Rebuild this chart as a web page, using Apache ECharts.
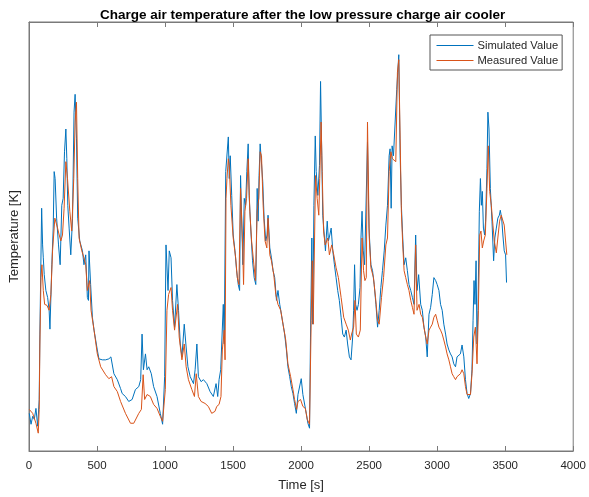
<!DOCTYPE html>
<html>
<head>
<meta charset="utf-8">
<script src="https://cdn.jsdelivr.net/npm/echarts@6/dist/echarts.min.js"></script>
<style>html,body{margin:0;padding:0;background:#fff;}#c{width:589px;height:497px;}</style>
</head>
<body>
<div id="c"></div>
<script>
const titleText = 'Charge air temperature after the low pressure charge air cooler';
const xTicks = [0, 500, 1000, 1500, 2000, 2500, 3000, 3500, 4000];
const seriesNames = ['Simulated Value', 'Measured Value'];

const simTime = [2,15,27,39,51,64,75,80,93,100,105,112,124,137,148,154,168,178,185,192,203,217,229,241,251,261,271,278,285,295,307,320,331,339,349,358,373,393,404,417,429,437,441,453,466,478,502,514,539,563,587,602,624,649,673,685,709,733,758,782,807,821,831,841,856,868,880,899,916,941,965,982,997,1007,1014,1022,1031,1044,1055,1070,1087,1099,1112,1124,1141,1153,1168,1185,1209,1221,1234,1245,1265,1282,1307,1331,1355,1375,1387,1397,1409,1428,1435,1446,1455,1465,1472,1479,1490,1501,1514,1526,1538,1548,1555,1565,1572,1582,1592,1601,1611,1618,1631,1643,1655,1667,1677,1684,1691,1699,1709,1718,1728,1740,1750,1757,1770,1782,1794,1806,1819,1830,1843,1855,1867,1879,1892,1903,1916,1928,1940,1952,1965,1977,1989,2001,2013,2026,2038,2050,2062,2069,2079,2086,2094,2104,2111,2123,2135,2143,2152,2159,2172,2179,2192,2201,2211,2221,2233,2245,2257,2269,2281,2294,2306,2318,2331,2342,2355,2367,2379,2386,2393,2401,2411,2421,2433,2440,2448,2457,2467,2477,2488,2499,2513,2525,2537,2550,2562,2574,2586,2598,2611,2623,2635,2647,2654,2662,2669,2679,2691,2703,2718,2728,2737,2747,2757,2769,2781,2793,2806,2818,2830,2842,2852,2864,2879,2891,2903,2916,2927,2940,2952,2964,2976,2989,3000,3013,3025,3037,3049,3062,3073,3086,3098,3110,3122,3135,3146,3159,3171,3183,3196,3208,3220,3232,3245,3256,3264,3271,3278,3286,3293,3300,3310,3318,3325,3332,3340,3349,3356,3366,3373,3381,3391,3403,3415,3424,3435,3446,3457,3464,3474,3483,3493,3503,3510];
const simTemp = [293.8,292.7,293.5,293.2,294.3,292.5,295.2,301.8,314.5,310.8,309.5,307.8,306.2,305.5,304.2,302.3,308.8,312.5,318.2,317.5,313.5,310.8,308.8,314.8,315.5,320.2,322.5,319.5,314.8,312.5,309.8,313.5,324.2,326.0,321.5,313.5,311.2,310.2,308.8,309.8,305.5,305.2,310.2,306.8,303.5,302.2,300.2,299.3,299.2,299.2,299.3,299.5,297.8,297.2,296.3,295.8,295.5,295.0,295.2,296.2,296.5,297.2,301.8,298.2,299.8,298.2,298.5,297.8,296.5,295.5,293.8,292.7,297.5,310.8,311.0,306.2,310.2,309.5,305.2,302.5,306.8,304.2,300.8,299.5,302.8,300.8,298.5,297.5,296.8,298.2,300.8,297.5,297.0,297.2,296.8,296.0,295.5,296.8,295.5,297.2,298.2,304.8,300.8,318.2,318.2,321.7,317.5,319.8,315.8,311.8,310.2,308.2,306.8,306.2,317.8,312.5,308.8,315.5,314.8,318.2,321.0,315.8,312.2,309.2,307.5,306.8,316.5,313.2,317.8,321.0,320.8,317.2,313.5,311.2,311.8,313.8,310.5,309.5,308.2,307.5,305.2,306.2,304.8,303.8,303.8,301.8,300.2,298.5,297.5,296.5,295.8,294.8,293.8,295.7,295.5,297.3,295.7,295.7,293.8,292.8,292.3,301.5,311.5,302.8,314.8,321.8,318.2,315.8,318.8,327.3,319.8,313.8,311.5,310.2,313.2,311.2,311.8,312.5,310.2,308.8,307.5,306.2,305.2,303.5,301.8,301.5,302.2,300.8,299.5,299.2,301.5,304.2,308.8,304.8,304.2,304.8,306.5,311.5,314.2,310.2,308.8,308.8,321.2,312.5,308.8,308.2,306.8,304.8,302.5,304.2,306.5,308.2,310.2,312.8,314.8,319.8,320.5,314.5,320.8,319.8,319.7,326.5,330.0,319.8,314.8,311.5,308.8,309.5,308.2,306.8,306.2,305.5,304.8,311.8,306.2,307.8,304.8,304.2,302.5,301.5,299.5,303.8,304.5,305.8,307.5,307.2,306.8,306.2,304.8,304.2,302.8,301.8,300.8,300.2,299.8,299.5,298.8,298.5,299.5,299.3,299.8,300.7,299.5,297.2,295.8,295.3,295.8,298.2,303.2,307.2,304.8,309.2,300.8,304.2,314.2,317.5,314.8,316.2,312.5,311.8,313.2,318.5,324.2,322.5,316.5,313.2,309.2,311.5,312.5,313.5,313.8,314.3,313.5,311.8,310.2,309.8,307.0];

const measTime = [2,27,51,68,75,80,88,95,105,115,132,148,161,173,190,210,222,234,246,258,271,283,300,314,329,339,349,358,368,388,404,417,429,446,456,478,502,527,563,587,607,624,649,673,709,746,770,807,826,839,850,868,892,916,941,965,982,1002,1014,1026,1044,1055,1070,1092,1104,1124,1141,1155,1172,1197,1216,1229,1245,1265,1294,1318,1343,1367,1380,1397,1411,1421,1435,1441,1448,1455,1465,1472,1484,1501,1519,1531,1543,1555,1570,1577,1587,1599,1611,1623,1636,1653,1665,1677,1689,1699,1709,1721,1735,1748,1757,1770,1782,1799,1814,1830,1850,1867,1887,1903,1923,1940,1952,1967,1977,1996,2013,2031,2045,2062,2074,2082,2089,2099,2106,2118,2130,2137,2147,2155,2165,2177,2196,2208,2225,2240,2257,2274,2294,2313,2331,2347,2362,2371,2386,2396,2406,2421,2435,2448,2459,2469,2479,2488,2501,2513,2532,2547,2562,2574,2591,2606,2623,2635,2647,2660,2671,2684,2696,2708,2718,2728,2737,2747,2757,2769,2781,2793,2806,2818,2830,2842,2852,2867,2879,2891,2903,2916,2927,2940,2952,2964,2976,2989,3000,3013,3025,3037,3049,3062,3073,3086,3098,3110,3122,3135,3146,3159,3171,3183,3196,3208,3220,3232,3245,3256,3269,3281,3293,3303,3313,3322,3332,3342,3354,3366,3376,3386,3398,3410,3420,3435,3446,3459,3471,3483,3493,3503,3512];
const measTemp = [294.2,293.8,292.8,291.8,294.2,300.8,307.5,308.8,306.2,304.8,304.7,304.2,305.8,310.2,313.5,312.5,311.8,311.2,311.8,314.5,319.2,317.5,314.2,312.2,317.5,323.2,325.2,317.5,311.5,310.2,309.5,308.8,306.2,307.2,304.2,302.2,299.8,298.5,297.7,297.3,297.5,296.5,296.0,295.0,293.8,292.8,292.8,293.8,294.2,297.7,295.2,295.7,295.5,294.7,294.3,293.5,293.0,296.2,304.2,305.8,306.5,304.2,302.2,304.8,301.5,299.2,300.8,298.5,297.2,296.2,295.5,297.8,295.5,295.0,294.8,294.5,293.8,294.0,294.5,294.7,295.5,300.2,302.2,299.2,315.5,317.5,319.5,318.8,314.8,311.5,309.5,307.5,306.8,316.5,310.8,306.8,314.2,315.5,319.5,314.2,311.2,308.8,307.2,314.2,315.5,320.2,319.8,314.8,311.2,310.5,313.5,309.8,309.2,307.8,305.8,304.8,304.2,302.8,301.2,298.8,297.5,296.2,295.2,294.2,295.0,295.2,294.5,294.3,293.2,292.7,303.2,309.2,302.8,311.5,317.8,315.5,313.8,317.5,323.2,318.2,312.2,310.8,311.5,309.8,310.8,309.8,308.5,307.5,305.5,303.5,302.8,302.2,301.2,301.8,302.5,305.2,301.8,301.5,302.2,311.5,308.2,307.2,307.5,323.2,311.5,308.5,307.5,305.5,303.2,302.8,305.5,307.5,310.8,311.5,318.2,320.2,319.5,319.5,319.2,328.2,329.5,321.5,314.2,310.8,308.2,307.5,306.8,306.2,305.2,304.5,303.8,310.8,304.2,304.8,303.8,303.5,302.5,301.5,300.8,302.2,302.5,302.8,303.5,303.8,303.2,302.5,302.2,301.8,301.2,300.5,299.8,299.2,298.5,297.8,297.5,297.2,297.5,297.3,297.8,298.2,297.8,296.5,295.7,295.5,295.7,297.8,301.5,302.5,298.8,304.2,311.8,312.2,310.5,311.2,311.8,316.5,320.8,316.2,314.8,312.8,311.2,310.0,311.5,313.2,313.8,313.7,312.8,311.2,309.8];

const yMin = 290, yMax = 333.3;

function zip(a, b) { return a.map((t, i) => [t, b[i]]); }

const chart = echarts.init(document.getElementById('c'), null, {renderer: 'canvas'});
const axisColor = '#7a7a7a';
const textColor = '#262626';
const font = 'Liberation Sans, Arial, Helvetica, sans-serif';
chart.setOption({
  animation: false,
  backgroundColor: '#ffffff',
  title: {
    text: titleText, left: 95, top: 3,
    textStyle: {fontFamily: font, fontSize: 13.5, fontWeight: 'bold', color: '#000'}
  },
  legend: {
    orient: 'vertical', left: 430, top: 35,
    data: seriesNames,
    icon: 'rect', itemWidth: 37, itemHeight: 1.2, itemGap: 4,
    padding: [5, 4, 4, 6.5],
    borderColor: '#555', borderWidth: 1, backgroundColor: '#fff',
    textStyle: {fontFamily: font, fontSize: 11.2, color: textColor, padding: [0,0,0,-1]}
  },
  grid: {left: 28, right: 14, top: 22, bottom: 42, show: true, borderColor: axisColor, borderWidth: 1, backgroundColor: '#fff'},
  xAxis: [{
    type: 'value', min: 0, max: 4000, interval: 500,
    name: 'Time [s]', nameLocation: 'middle', nameGap: 28,
    nameTextStyle: {fontFamily: font, fontSize: 13, color: textColor},
    axisLine: {show: true, lineStyle: {color: axisColor}},
    axisTick: {show: true, inside: true, length: 5, lineStyle: {color: axisColor}},
    axisLabel: {fontFamily: font, fontSize: 11.5, color: textColor, margin: 9,
      formatter: v => xTicks.includes(v) ? String(v) : ''},
    splitLine: {show: false}
  }, {
    type: 'value', min: 0, max: 4000, interval: 500, position: 'top',
    axisLine: {show: true, lineStyle: {color: axisColor}},
    axisTick: {show: true, inside: true, length: 5, lineStyle: {color: axisColor}},
    axisLabel: {show: false}, splitLine: {show: false}
  }],
  yAxis: {
    type: 'value', min: yMin, max: yMax,
    name: 'Temperature [K]', nameLocation: 'middle', nameGap: 8,
    nameTextStyle: {fontFamily: font, fontSize: 13, color: textColor},
    axisLine: {show: true, lineStyle: {color: axisColor}},
    axisTick: {show: false}, axisLabel: {show: false}, splitLine: {show: false}
  },
  series: [{
    name: seriesNames[0], type: 'line', xAxisIndex: 0, showSymbol: false, symbol: 'none',
    data: zip(simTime, simTemp),
    itemStyle: {color: '#0072BD'}, lineStyle: {color: '#0072BD', width: 1}
  }, {
    name: seriesNames[1], type: 'line', xAxisIndex: 0, showSymbol: false, symbol: 'none',
    data: zip(measTime, measTemp),
    itemStyle: {color: '#D95319'}, lineStyle: {color: '#D95319', width: 1}
  }]
});
</script>
</body>
</html>
